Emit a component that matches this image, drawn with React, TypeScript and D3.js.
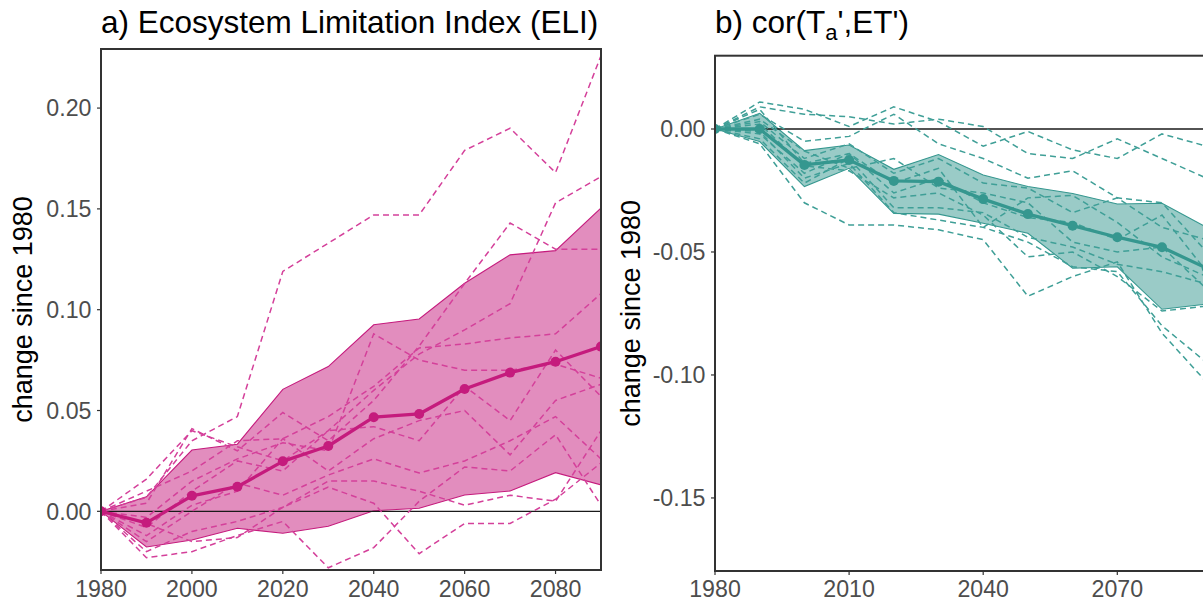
import React from "react";
import * as d3 from "d3";

// Decades shared by both panels
const years = [1980, 1990, 2000, 2010, 2020, 2030, 2040, 2050, 2060, 2070, 2080, 2090];

// Panel a: Ecosystem Limitation Index, change since 1980
const eliMean = [0, -0.0057, 0.0077, 0.0122, 0.0248, 0.0324, 0.0467, 0.0483, 0.0607, 0.0688, 0.0742, 0.0817];
const eliUpper = [0, 0.0072, 0.0304, 0.0333, 0.0605, 0.0718, 0.0925, 0.0954, 0.1131, 0.1272, 0.1293, 0.1504];
const eliLower = [0, -0.0177, -0.0142, -0.0084, -0.0109, -0.0074, 0.0003, 0.0015, 0.0081, 0.0101, 0.0192, 0.0131];
const eliModels = [
  [0, 0.007, 0.035, 0.047, 0.119, 0.133, 0.147, 0.147, 0.179, 0.19, 0.168, 0.226],
  [0, 0.016, 0.04, 0.032, 0.025, 0.04, 0.06, 0.078, 0.09, 0.103, 0.153, 0.166],
  [0, 0.004, 0.041, 0.03, 0.049, 0.035, 0.055, 0.082, 0.113, 0.143, 0.13, 0.13],
  [0, 0.01, 0.02, 0.035, 0.036, 0.047, 0.062, 0.081, 0.083, 0.086, 0.088, 0.108],
  [0, -0.003, 0.015, 0.026, 0.034, 0.03, 0.088, 0.075, 0.07, 0.07, 0.073, 0.066],
  [0, -0.008, 0.01, 0.025, 0.02, 0.04, 0.042, 0.035, 0.062, 0.045, 0.08, 0.057],
  [0, -0.012, 0.003, 0.01, 0.036, 0.02, 0.036, 0.045, 0.05, 0.028, 0.055, 0.063],
  [0, -0.015, 0.0, 0.014, 0.008, 0.018, 0.026, 0.019, 0.025, 0.035, 0.047, 0.026],
  [0, -0.02, -0.01, -0.005, 0.002, 0.015, 0.015, 0.01, 0.003, 0.008, 0.005, 0.04],
  [0, -0.023, -0.02, -0.012, -0.005, -0.028, -0.018, 0.005, 0.022, 0.02, 0.038, 0.003],
  [0, -0.006, -0.015, -0.013, 0.002, 0.012, 0.004, -0.021, -0.006, -0.006, 0.006, 0.024],
];

// Panel b: cor(Ta', ET'), change since 1980
const corMean = [0, 0.0, -0.0146, -0.0126, -0.0211, -0.0214, -0.0285, -0.0346, -0.0393, -0.044, -0.0481, -0.0566];
const corUpper = [0, 0.0064, -0.0088, -0.0065, -0.0164, -0.0104, -0.0187, -0.0234, -0.0262, -0.0305, -0.0302, -0.04];
const corLower = [0, -0.0051, -0.0234, -0.016, -0.0343, -0.0346, -0.0383, -0.0424, -0.0566, -0.056, -0.0733, -0.0712];
const corModels = [
  [0, 0.011, 0.008, 0.001, 0.009, 0.003, -0.007, -0.001, -0.0085, -0.012, -0.002, -0.007],
  [0, 0.009, 0.006, 0.005, 0.002, 0.004, 0.001, -0.01, -0.012, -0.004, -0.012, -0.02],
  [0, 0.006, -0.005, -0.003, 0.006, -0.006, -0.012, -0.02, -0.017, -0.028, -0.03, -0.05],
  [0, 0.003, -0.012, -0.006, -0.018, -0.012, -0.022, -0.024, -0.034, -0.028, -0.04, -0.045],
  [0, -0.002, -0.018, -0.01, -0.026, -0.02, -0.03, -0.036, -0.038, -0.045, -0.035, -0.058],
  [0, -0.004, -0.022, -0.012, -0.032, -0.032, -0.034, -0.044, -0.048, -0.055, -0.058, -0.063],
  [0, -0.006, -0.03, -0.039, -0.039, -0.041, -0.045, -0.068, -0.06, -0.054, -0.083, -0.103],
  [0, -0.001, -0.02, -0.014, -0.034, -0.037, -0.04, -0.046, -0.056, -0.058, -0.08, -0.095],
  [0, 0.002, -0.015, -0.017, -0.028, -0.026, -0.035, -0.052, -0.05, -0.06, -0.074, -0.072],
  [0, 0.004, -0.009, -0.016, -0.012, -0.024, -0.026, -0.03, -0.046, -0.05, -0.048, -0.065],
  [0, 0.008, -0.014, -0.01, -0.022, -0.016, -0.04, -0.028, -0.027, -0.038, -0.052, -0.06],
];

// Axis ticks
const eliYTicks = [0, 0.05, 0.1, 0.15, 0.2];
const eliXTicks = [1980, 2000, 2020, 2040, 2060, 2080];
const corYTicks = [0, -0.05, -0.1, -0.15];
const corXTicks = [1980, 2010, 2040, 2070];

const FONT = "'Liberation Sans', Arial, Helvetica, sans-serif";

type PanelProps = {
  id: string;
  x: d3.ScaleLinear<number, number>;
  y: d3.ScaleLinear<number, number>;
  mean: number[];
  upper: number[];
  lower: number[];
  models: number[][];
  yTicks: number[];
  xTicks: number[];
  color: string;
  dashColor: string;
};

function Panel({ id, x, y, mean, upper, lower, models, yTicks, xTicks, color, dashColor }: PanelProps) {
  const [x0, x1] = x.range();
  const [y0, y1] = y.range(); // y0 bottom, y1 top
  const line = d3
    .line<number>()
    .x((_, i) => x(years[i]))
    .y((d) => y(d));
  const area = d3
    .area<number>()
    .x((_, i) => x(years[i]))
    .y0((_, i) => y(lower[i]))
    .y1((d) => y(d));

  return (
    <g>
      <defs>
        <clipPath id={id}>
          <rect x={x0} y={y1} width={x1 - x0} height={y0 - y1} />
        </clipPath>
      </defs>
      <g clipPath={`url(#${id})`}>
        <path d={area(upper) ?? ""} fill={color} fillOpacity={0.5} stroke={color} strokeWidth={1.1} />
        <line x1={x0} x2={x1} y1={y(0)} y2={y(0)} stroke="#1a1a1a" strokeWidth={1.3} />
        {models.map((m, k) => (
          <path
            key={k}
            d={line(m) ?? ""}
            fill="none"
            stroke={dashColor}
            strokeWidth={1.5}
            strokeDasharray="6,4"
          />
        ))}
        <path d={line(mean) ?? ""} fill="none" stroke={color} strokeWidth={3.3} strokeLinejoin="round" />
        {mean.map((v, i) => (
          <circle key={i} cx={x(years[i])} cy={y(v)} r={5} fill={color} />
        ))}
      </g>
      <rect x={x0} y={y1} width={x1 - x0} height={y0 - y1} fill="none" stroke="#333333" strokeWidth={2} />
      {yTicks.map((t) => (
        <g key={t}>
          <line x1={x0 - 4} x2={x0} y1={y(t)} y2={y(t)} stroke="#333333" strokeWidth={1.2} />
          <text
            x={x0 - 9.5}
            y={y(t)}
            dy="0.36em"
            textAnchor="end"
            fontSize={23.2}
            fill="#4d4d4d"
            fontFamily={FONT}
          >
            {d3.format(".2f")(t).replace("−", "-")}
          </text>
        </g>
      ))}
      {xTicks.map((t) => (
        <g key={t}>
          <line x1={x(t)} x2={x(t)} y1={y0} y2={y0 + 4} stroke="#333333" strokeWidth={1.2} />
          <text x={x(t)} y={597} textAnchor="middle" fontSize={23.2} fill="#4d4d4d" fontFamily={FONT}>
            {t}
          </text>
        </g>
      ))}
    </g>
  );
}

export default function App() {
  const W = 1203;
  const H = 602;

  const xA = d3.scaleLinear().domain([1980, 2090]).range([101, 601]);
  const yA = d3.scaleLinear().domain([-0.0291, 0.2293]).range([570, 49]);
  const xB = d3.scaleLinear().domain([1980, 2090]).range([715, 1206.7]);
  const yB = d3.scaleLinear().domain([-0.1797, 0.0298]).range([571, 55.7]);

  return (
    <div style={{ position: "absolute", left: 0, top: 0, width: W, height: H, overflow: "hidden" }}>
      <svg width={W} height={H} style={{ display: "block", background: "#ffffff" }}>
        <rect width={W} height={H} fill="#ffffff" />
        <text x={101} y={33} fontSize={31.5} fill="#000000" fontFamily={FONT}>
          a) Ecosystem Limitation Index (ELI)
        </text>
        <text x={715} y={33} fontSize={31.5} fill="#000000" fontFamily={FONT}>
          b) cor(T
          <tspan dy={7} fontSize={22}>
            a
          </tspan>
          <tspan dy={-7}>',ET')</tspan>
        </text>
        <text
          transform={`translate(31.5, ${(49 + 570) / 2}) rotate(-90)`}
          textAnchor="middle"
          fontSize={27}
          fill="#000000"
          fontFamily={FONT}
        >
          change since 1980
        </text>
        <text
          transform={`translate(639.5, ${(55.7 + 571) / 2}) rotate(-90)`}
          textAnchor="middle"
          fontSize={27}
          fill="#000000"
          fontFamily={FONT}
        >
          change since 1980
        </text>
        <Panel
          id="clipA"
          x={xA}
          y={yA}
          mean={eliMean}
          upper={eliUpper}
          lower={eliLower}
          models={eliModels}
          yTicks={eliYTicks}
          xTicks={eliXTicks}
          color="#c51b7d"
          dashColor="#d4409a"
        />
        <Panel
          id="clipB"
          x={xB}
          y={yB}
          mean={corMean}
          upper={corUpper}
          lower={corLower}
          models={corModels}
          yTicks={corYTicks}
          xTicks={corXTicks}
          color="#35978f"
          dashColor="#3f9f97"
        />
      </svg>
    </div>
  );
}
